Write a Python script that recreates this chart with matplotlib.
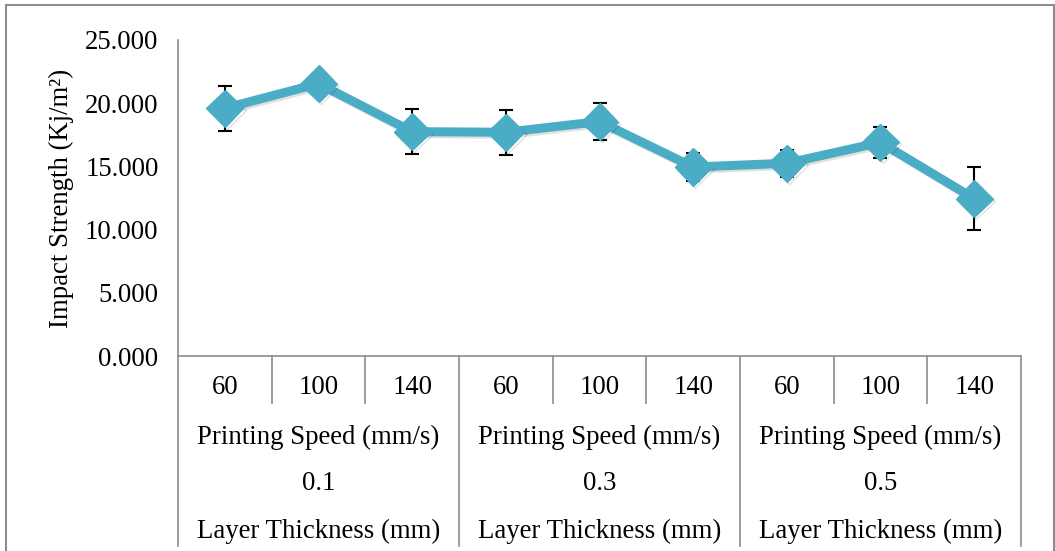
import numpy as np
import matplotlib
matplotlib.use("Agg")
import matplotlib.pyplot as plt
import matplotlib.patheffects as pe
from matplotlib.patches import Rectangle

speeds = ["60", "100", "140"] * 3
thickness = ["0.1", "0.3", "0.5"]
strength = [19.6, 21.55, 17.75, 17.7, 18.55, 14.95, 15.25, 16.9, 12.45]
err = [1.8, 0.85, 1.8, 1.8, 1.5, 1.1, 1.05, 1.25, 2.5]

plt.rcParams['font.family'] = ['Liberation Serif', 'DejaVu Serif']
W, H = 1055, 551
fs = 19.3
fig = plt.figure(figsize=(W / 100, H / 100), dpi=100)
ax = fig.add_axes([178 / W, (H - 356) / H, (1021 - 178) / W, 316 / H])

x = np.arange(len(strength)) + 0.5
ax.errorbar(x, strength, yerr=err, fmt='none', ecolor='black', elinewidth=1.5,
            capsize=5, capthick=1.5, zorder=2)
ax.plot(x, strength, color='#4BACC6', lw=6.5, marker='D', markersize=19,
        zorder=3, path_effects=[pe.SimpleLineShadow(offset=(1.5, -1.5), alpha=0.12), pe.Normal()])

ax.set_xlim(0, 9)
ax.set_ylim(0, 25)
ax.set_yticks(np.arange(0, 26, 5))
ax.set_yticklabels([f"{v:.3f}" for v in np.arange(0, 26, 5)], fontsize=fs)
ax.tick_params(axis='y', length=0, pad=14)
ax.set_xticks([])
ax.set_ylabel("Impact Strength (Kj/m²)", fontsize=fs, labelpad=8)
for s in ['top', 'right']:
    ax.spines[s].set_visible(False)
for s in ['left', 'bottom']:
    ax.spines[s].set_color('#8c8c8c')
    ax.spines[s].set_linewidth(1.2)

# multi-level category labels below the axis (y in axes fraction)
tr = ax.get_xaxis_transform()
px = 1 / 316
lc = '#8c8c8c'
for i, lab in enumerate(speeds):
    ax.text(i + 0.5, -32 * px, lab, transform=tr, ha='center', va='center', fontsize=fs)
for g, t in enumerate(thickness):
    ax.text(g * 3 + 1.5, -81 * px, "Printing Speed (mm/s)", transform=tr,
            ha='center', va='center', fontsize=fs)
    ax.text(g * 3 + 1.5, -128 * px, t, transform=tr, ha='center', va='center', fontsize=fs)
    ax.text(g * 3 + 1.5, -175 * px, "Layer Thickness (mm)", transform=tr,
            ha='center', va='center', fontsize=fs)
for i in range(10):
    y_end = -190 * px if i % 3 == 0 else -47 * px
    ax.plot([i, i], [0, y_end], transform=tr, color=lc, lw=1.2, clip_on=False)

# outer chart border
fig.patches.append(Rectangle((6 / W, -0.1), (1054 - 6) / W, (H - 5) / H + 0.1,
                             transform=fig.transFigure, fill=False,
                             edgecolor='#8c8c8c', lw=1.5))

fig.savefig("out.png", dpi=100)
